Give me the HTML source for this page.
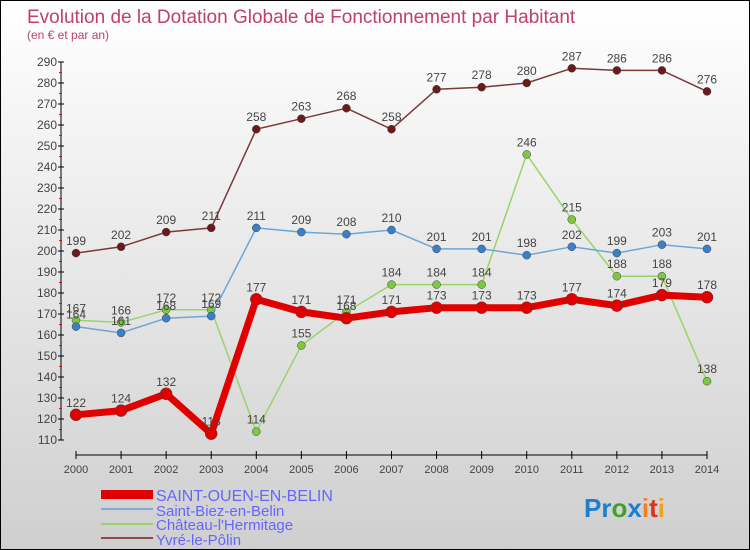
<!DOCTYPE html>
<html><head><meta charset="utf-8"><style>
body{margin:0}
#c{width:748px;height:548px;border:1px solid #000;background:linear-gradient(#fff,#cfcfcf);position:relative;font-family:"Liberation Sans","DejaVu Sans",sans-serif;overflow:hidden}
</style></head><body>
<div id="c">
<svg width="748" height="548" id="s">
<text x="26" y="22" font-size="19" fill="#c0406a">Evolution de la Dotation Globale de Fonctionnement par Habitant</text>
<text x="26" y="38" font-size="12" fill="#c0406a">(en € et par an)</text>
<g id="ax"></g><g id="series"></g>
<g>
<rect x="100" y="489" width="52" height="9" fill="#e00000"/>
<text x="155" y="500" font-size="16" fill="#6666ff">SAINT-OUEN-EN-BELIN</text>
<rect x="100" y="507" width="52" height="2" fill="#7aaed6"/>
<text x="155" y="515" font-size="15" fill="#6666ff">Saint-Biez-en-Belin</text>
<rect x="100" y="522" width="52" height="2" fill="#9ad36a"/>
<text x="155" y="529" font-size="15" fill="#6666ff">Château-l'Hermitage</text>
<rect x="100" y="536" width="52" height="2" fill="#8a4a4a"/>
<text x="155" y="544" font-size="15" fill="#6666ff">Yvré-le-Pôlin</text>
</g>
<text x="583" y="516" font-size="26" font-weight="bold"><tspan fill="#1a7fd0">Pr</tspan><tspan fill="#40a030">o</tspan><tspan fill="#1a7fd0">x</tspan><tspan fill="#f08020">i</tspan><tspan fill="#e03020">t</tspan><tspan fill="#f0a020">i</tspan></text>
</svg></div>
<script>
const years=["2000","2001","2002","2003","2004","2005","2006","2007","2008","2009","2010","2011","2012","2013","2014"];
const yTicks=[110,120,130,140,150,160,170,180,190,200,210,220,230,240,250,260,270,280,290];
const saintOuen=[122,124,132,113,177,171,168,171,173,173,173,177,174,179,178];
const saintBiez=[164,161,168,169,211,209,208,210,201,201,198,202,199,203,201];
const chateau=[167,166,172,172,114,155,171,184,184,184,246,215,188,188,138];
const yvre=[199,202,209,211,258,263,268,258,277,278,280,287,286,286,276];
const NS="http://www.w3.org/2000/svg";
function X(i){return 75+i*(631/14);}
function Y(v){return 61+(290-v)*(378/180);}
function mk(t,a,p){const e=document.createElementNS(NS,t);for(const k in a)e.setAttribute(k,a[k]);p.appendChild(e);return e;}
const ax=document.getElementById('ax');
let l=mk('line',{x1:60,y1:Y(290),x2:60,y2:Y(110),stroke:'#000'},ax);


l=mk('line',{x1:X(0),y1:454,x2:X(14),y2:454,stroke:'#000'},ax);


yTicks.forEach(v=>{
 mk('line',{x1:57,y1:Y(v),x2:63,y2:Y(v),stroke:'#000'},ax);
 if(v<290)mk('line',{x1:58,y1:Y(v+5),x2:61,y2:Y(v+5),stroke:'#f00'},ax);
 const t=mk('text',{x:56,y:Y(v)+4,'font-size':12,fill:'#444','text-anchor':'end'},ax);t.textContent=v;
 
 
});
years.forEach((y,i)=>{
 mk('line',{x1:X(i),y1:450,x2:X(i),y2:458,stroke:'#000'},ax);
 const t=mk('text',{x:X(i),y:472,'font-size':11,fill:'#444','text-anchor':'middle'},ax);t.textContent=y;
 
 
});
const sg=document.getElementById('series');
function draw(d,name,col,pcol,w,r){
 const g=mk('g',{},sg);
 
 
 const pl=mk('polyline',{points:d.map((v,i)=>X(i)+','+Y(v)).join(' '),fill:'none',stroke:col,'stroke-width':w,'stroke-linejoin':'round'},g);
 
 
 d.forEach((v,i)=>{
  const c=mk('circle',{cx:X(i),cy:Y(v),r:r,fill:pcol,stroke:'#444','stroke-width':0.5},g);
  
  
  const t=mk('text',{x:X(i),y:Y(v)-8,'font-size':12,fill:'#444','text-anchor':'middle'},g);t.textContent=v;
  
  
 });
}
draw(yvre,'yvre','#7a3a3a','#6a1a1a',1.5,4);
draw(chateau,'chateau','#9ad36a','#7cc840',1.5,4);
draw(saintBiez,'saint-biez','#6fa6d6','#3a80c8',1.5,4);
draw(saintOuen,'saint-ouen','#e00000','#e00000',7,6);
</script>
</body></html>
